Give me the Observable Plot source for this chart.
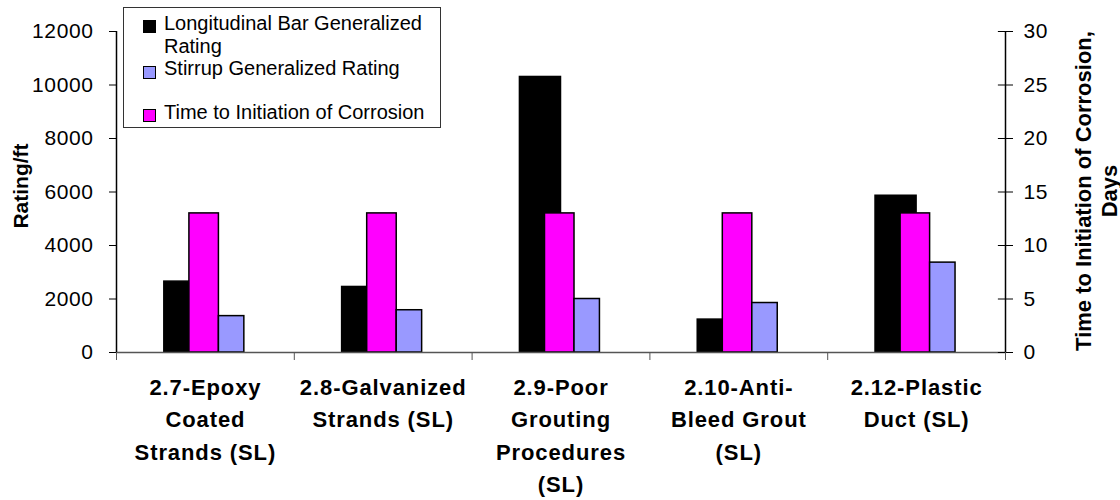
<!DOCTYPE html>
<html><head><meta charset="utf-8">
<script src="https://cdn.jsdelivr.net/npm/d3@7"></script>
<script src="https://cdn.jsdelivr.net/npm/@observablehq/plot@0.6"></script>
<style>
body{margin:0;background:#fff;font-family:"Liberation Sans",Arial,sans-serif;}
#wrap{position:relative;width:1120px;height:500px;}
#legend{position:absolute;left:123px;top:7px;width:316px;height:119px;border:1px solid #333;background:#fff;font-size:20px;color:#000;}
#legend .sw{position:absolute;left:19px;width:11px;height:11px;border:1px solid #000;}
#legend .tx{position:absolute;left:40px;width:275px;line-height:23px;white-space:normal;}
svg .cat text{letter-spacing:0.9px;}
svg .ytk text{letter-spacing:0.6px;}
</style></head>
<body><div id="wrap"></div>
<script>
const categories = ["2.7-Epoxy\nCoated\nStrands (SL)", "2.8-Galvanized\nStrands (SL)", "2.9-Poor\nGrouting\nProcedures\n(SL)", "2.10-Anti-\nBleed Grout\n(SL)", "2.12-Plastic\nDuct (SL)"];
const longitudinal = [2650, 2450, 10300, 1230, 5860];
const stirrup = [1360, 1580, 2000, 1850, 3360];
const timeDays = [13, 13, 13, 13, 13];
const seriesNames = ["Longitudinal Bar Generalized Rating", "Stirrup Generalized Rating", "Time to Initiation of Corrosion"];
const seriesColors = ["#000000", "#9999FF", "#FF00FF"];
const leftTicks = [0, 2000, 4000, 6000, 8000, 10000, 12000];
const rightTicks = [0, 5, 10, 15, 20, 25, 30];
const leftTitle = "Rating/ft";
const rightTitle = "Time to Initiation of Corrosion,\nDays";

const k = leftTicks[leftTicks.length - 1] / rightTicks[rightTicks.length - 1];
const rows = categories.map((c, i) => ({i, label: c, lon: longitudinal[i], sti: stirrup[i], days: timeDays[i]}));
const font = "Liberation Sans, Arial, sans-serif";
const n = categories.length;

const chart = Plot.plot({
  width: 1120, height: 500,
  marginLeft: 116, marginRight: 115, marginTop: 31, marginBottom: 148,
  style: {fontFamily: font, fontSize: "21px", color: "#000", background: "#fff", overflow: "visible"},
  x: {type: "linear", domain: [0, n], axis: null},
  y: {domain: [leftTicks[0], leftTicks[leftTicks.length - 1]], axis: null},
  marks: [
    Plot.rectY(rows, {x1: d => d.i + 0.5 - 0.231, x2: d => d.i + 0.5, y: "lon", fill: seriesColors[0], stroke: "#000", strokeWidth: 1.5}),
    Plot.rectY(rows, {x1: d => d.i + 0.5 - 0.090, x2: d => d.i + 0.5 + 0.076, y: d => d.days * k, fill: seriesColors[2], stroke: "#000", strokeWidth: 1.5}),
    Plot.rectY(rows, {x1: d => d.i + 0.5 + 0.076, x2: d => d.i + 0.5 + 0.219, y: "sti", fill: seriesColors[1], stroke: "#000", strokeWidth: 1.5}),
    Plot.ruleY([0], {stroke: "#555", strokeWidth: 1.5}),
    Plot.ruleX([0, n], {stroke: "#000", strokeWidth: 1.5}),
    Plot.ruleY(rightTicks.map(t => t * k), {x1: n - 0.04, x2: n, stroke: "#000"}),
    Plot.axisX(d3.range(0, n + 1), {tickSize: 8, tickFormat: () => "", label: null, stroke: "#555"}),
    Plot.axisY(leftTicks, {anchor: "left", tickSize: 7, tickPadding: 16, fontSize: 21, tickFormat: d => String(d), label: null, stroke: "#000", className: "ytk"}),
    Plot.axisY(rightTicks.map(t => t * k), {anchor: "right", tickSize: 7, tickPadding: 11, fontSize: 21, tickFormat: d => String(d / k), label: null, stroke: "#000", className: "ytk"}),
    Plot.text(rows, {x: d => d.i + 0.5, y: 0, text: "label", lineAnchor: "top", dy: 20, fontSize: 22, fontWeight: "bold", lineHeight: 1.46, className: "cat"}),
    Plot.text([leftTitle], {frameAnchor: "left", text: d => d, rotate: -90, textAnchor: "middle", dx: -95, dy: -6, fontSize: 21, fontWeight: "bold"}),
    Plot.text([rightTitle], {frameAnchor: "right", text: d => d, rotate: -90, textAnchor: "middle", dx: 90, dy: -1, lineAnchor: "middle", lineHeight: 1.2, fontSize: 22, fontWeight: "bold"})
  ]
});
const wrap = document.getElementById("wrap");
wrap.appendChild(chart);

const legend = document.createElement("div");
legend.id = "legend";
const swTops = [12, 58, 101];
const txTops = [4, 49, 93];
seriesNames.forEach((name, j) => {
  const sw = document.createElement("div");
  sw.className = "sw"; sw.style.top = swTops[j] + "px"; sw.style.background = seriesColors[j];
  const tx = document.createElement("div");
  tx.className = "tx"; tx.style.top = txTops[j] + "px"; tx.textContent = name;
  legend.appendChild(sw); legend.appendChild(tx);
});
wrap.appendChild(legend);
</script></body></html>
